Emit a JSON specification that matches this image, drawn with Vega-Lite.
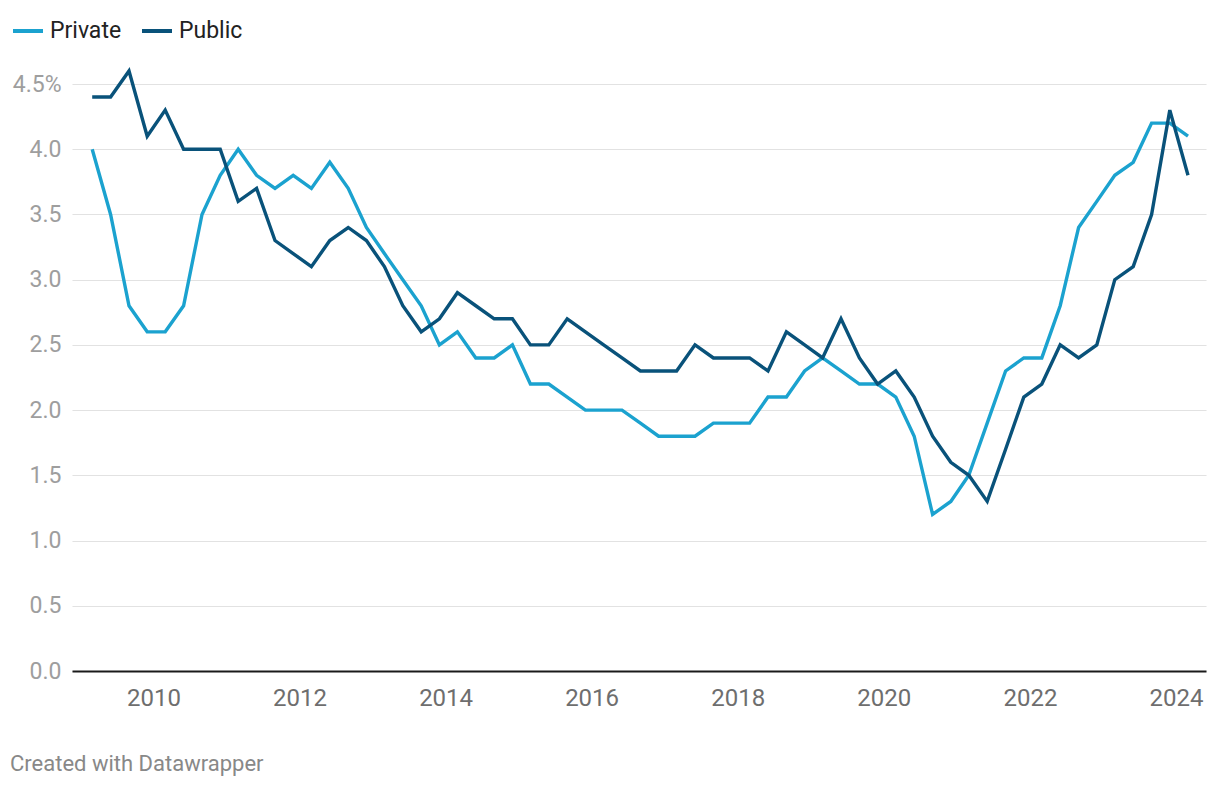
{
  "$schema": "https://vega.github.io/schema/vega-lite/v6.json",
  "autosize": {"type": "none"},
  "width": 1134,
  "height": 587,
  "padding": {"left": 72, "top": 84, "right": 14, "bottom": 117},
  "background": "#ffffff",
  "config": {
    "view": {"stroke": null},
    "font": "Roboto"
  },
  "title": {
    "text": "Created with Datawrapper",
    "orient": "bottom",
    "anchor": "start",
    "frame": "group",
    "dx": -62,
    "offset": 44,
    "font": "Roboto",
    "fontSize": 22,
    "fontWeight": "normal",
    "color": "#888888"
  },
  "data": {
    "values": [
      {"date": "2009-03-01", "Private": 4.0, "Public": 4.4},
      {"date": "2009-06-01", "Private": 3.5, "Public": 4.4},
      {"date": "2009-09-01", "Private": 2.8, "Public": 4.6},
      {"date": "2009-12-01", "Private": 2.6, "Public": 4.1},
      {"date": "2010-03-01", "Private": 2.6, "Public": 4.3},
      {"date": "2010-06-01", "Private": 2.8, "Public": 4.0},
      {"date": "2010-09-01", "Private": 3.5, "Public": 4.0},
      {"date": "2010-12-01", "Private": 3.8, "Public": 4.0},
      {"date": "2011-03-01", "Private": 4.0, "Public": 3.6},
      {"date": "2011-06-01", "Private": 3.8, "Public": 3.7},
      {"date": "2011-09-01", "Private": 3.7, "Public": 3.3},
      {"date": "2011-12-01", "Private": 3.8, "Public": 3.2},
      {"date": "2012-03-01", "Private": 3.7, "Public": 3.1},
      {"date": "2012-06-01", "Private": 3.9, "Public": 3.3},
      {"date": "2012-09-01", "Private": 3.7, "Public": 3.4},
      {"date": "2012-12-01", "Private": 3.4, "Public": 3.3},
      {"date": "2013-03-01", "Private": 3.2, "Public": 3.1},
      {"date": "2013-06-01", "Private": 3.0, "Public": 2.8},
      {"date": "2013-09-01", "Private": 2.8, "Public": 2.6},
      {"date": "2013-12-01", "Private": 2.5, "Public": 2.7},
      {"date": "2014-03-01", "Private": 2.6, "Public": 2.9},
      {"date": "2014-06-01", "Private": 2.4, "Public": 2.8},
      {"date": "2014-09-01", "Private": 2.4, "Public": 2.7},
      {"date": "2014-12-01", "Private": 2.5, "Public": 2.7},
      {"date": "2015-03-01", "Private": 2.2, "Public": 2.5},
      {"date": "2015-06-01", "Private": 2.2, "Public": 2.5},
      {"date": "2015-09-01", "Private": 2.1, "Public": 2.7},
      {"date": "2015-12-01", "Private": 2.0, "Public": 2.6},
      {"date": "2016-03-01", "Private": 2.0, "Public": 2.5},
      {"date": "2016-06-01", "Private": 2.0, "Public": 2.4},
      {"date": "2016-09-01", "Private": 1.9, "Public": 2.3},
      {"date": "2016-12-01", "Private": 1.8, "Public": 2.3},
      {"date": "2017-03-01", "Private": 1.8, "Public": 2.3},
      {"date": "2017-06-01", "Private": 1.8, "Public": 2.5},
      {"date": "2017-09-01", "Private": 1.9, "Public": 2.4},
      {"date": "2017-12-01", "Private": 1.9, "Public": 2.4},
      {"date": "2018-03-01", "Private": 1.9, "Public": 2.4},
      {"date": "2018-06-01", "Private": 2.1, "Public": 2.3},
      {"date": "2018-09-01", "Private": 2.1, "Public": 2.6},
      {"date": "2018-12-01", "Private": 2.3, "Public": 2.5},
      {"date": "2019-03-01", "Private": 2.4, "Public": 2.4},
      {"date": "2019-06-01", "Private": 2.3, "Public": 2.7},
      {"date": "2019-09-01", "Private": 2.2, "Public": 2.4},
      {"date": "2019-12-01", "Private": 2.2, "Public": 2.2},
      {"date": "2020-03-01", "Private": 2.1, "Public": 2.3},
      {"date": "2020-06-01", "Private": 1.8, "Public": 2.1},
      {"date": "2020-09-01", "Private": 1.2, "Public": 1.8},
      {"date": "2020-12-01", "Private": 1.3, "Public": 1.6},
      {"date": "2021-03-01", "Private": 1.5, "Public": 1.5},
      {"date": "2021-06-01", "Private": 1.9, "Public": 1.3},
      {"date": "2021-09-01", "Private": 2.3, "Public": 1.7},
      {"date": "2021-12-01", "Private": 2.4, "Public": 2.1},
      {"date": "2022-03-01", "Private": 2.4, "Public": 2.2},
      {"date": "2022-06-01", "Private": 2.8, "Public": 2.5},
      {"date": "2022-09-01", "Private": 3.4, "Public": 2.4},
      {"date": "2022-12-01", "Private": 3.6, "Public": 2.5},
      {"date": "2023-03-01", "Private": 3.8, "Public": 3.0},
      {"date": "2023-06-01", "Private": 3.9, "Public": 3.1},
      {"date": "2023-09-01", "Private": 4.2, "Public": 3.5},
      {"date": "2023-12-01", "Private": 4.2, "Public": 4.3},
      {"date": "2024-03-01", "Private": 4.1, "Public": 3.8}
    ]
  },
  "transform": [
    {"fold": ["Private", "Public"], "as": ["series", "value"]}
  ],
  "mark": {"type": "line", "strokeWidth": 3.4, "clip": false},
  "encoding": {
    "x": {
      "field": "date",
      "type": "temporal",
      "scale": {
        "type": "utc",
        "domain": [
          {"year": 2008, "month": 11, "date": 20, "utc": true},
          {"year": 2024, "month": 5, "date": 30, "utc": true}
        ]
      },
      "axis": {
        "title": null,
        "values": [
          {"year": 2010, "utc": true},
          {"year": 2012, "utc": true},
          {"year": 2014, "utc": true},
          {"year": 2016, "utc": true},
          {"year": 2018, "utc": true},
          {"year": 2020, "utc": true},
          {"year": 2022, "utc": true},
          {"year": 2024, "utc": true}
        ],
        "format": "%Y",
        "formatType": "utc",
        "grid": false,
        "ticks": false,
        "tickSize": 0,
        "domain": true,
        "domainColor": "#1a1a1a",
        "domainWidth": 2,
        "labelFont": "Roboto",
        "labelFontSize": 24,
        "labelColor": "#6e6e6e",
        "labelPadding": 15,
        "labelFlush": false,
        "labelOverlap": false
      }
    },
    "y": {
      "field": "value",
      "type": "quantitative",
      "scale": {"domain": [0, 4.5], "nice": false, "zero": true},
      "axis": {
        "title": null,
        "values": [0, 0.5, 1, 1.5, 2, 2.5, 3, 3.5, 4, 4.5],
        "labelExpr": "datum.value == 4.5 ? '4.5%' : format(datum.value, '.1f')",
        "domain": false,
        "ticks": false,
        "tickSize": 0,
        "grid": true,
        "gridColor": "#e2e2e2",
        "gridWidth": 1.2,
        "labelFont": "Roboto",
        "labelFontSize": 23,
        "labelColor": "#9e9e9e",
        "labelPadding": 11,
        "labelBaseline": "middle"
      }
    },
    "color": {
      "field": "series",
      "type": "nominal",
      "scale": {"domain": ["Private", "Public"], "range": ["#1ba2cf", "#09527a"]},
      "legend": {
        "title": null,
        "orient": "none",
        "legendX": -61,
        "legendY": -70,
        "direction": "horizontal",
        "symbolType": "stroke",
        "symbolSize": 900,
        "symbolStrokeWidth": 4,
        "labelFont": "Roboto",
        "labelFontSize": 23,
        "labelColor": "#222222",
        "labelOffset": 5,
        "columnPadding": 12,
        "padding": 0
      }
    }
  }
}
